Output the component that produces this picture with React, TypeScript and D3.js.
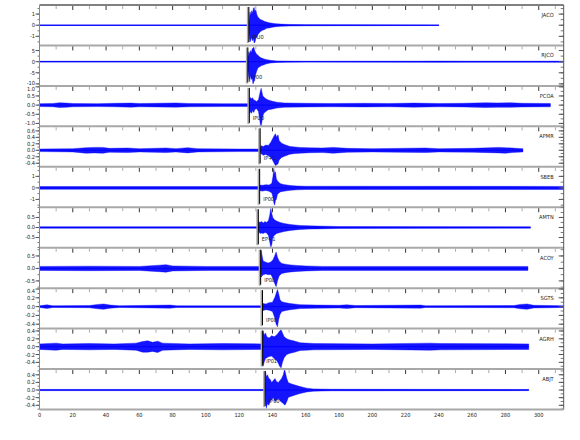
import React from "react";
import * as d3 from "d3";

type Env = [number, number, number][]; // [time, upper amplitude, lower amplitude]

const STATIONS = ["JACO", "RJCO", "PCOA", "APMR", "SBEB", "AMTN", "ACOY", "SGTS", "AGRH", "ABJT"];
const PICK_TIMES = [125.8, 125.2, 126.1, 132.6, 132.3, 131.5, 132.9, 134.0, 134.1, 135.6];
const PICK_LABELS = ["IPU0", "IP00", "IPU0", "IP+1", "IP00", "EP+1", "IP00", "IP00", "IP01", "IP00"];
const Y_MIN = [-1.82, -10.9, -1.16, -0.51, -1.68, -1.01, -0.79, -0.5, -0.57, -0.51];
const Y_MAX = [1.82, 7.3, 1.05, 0.74, 1.83, 1.01, 0.83, 0.42, 0.46, 0.55];
const Y_MAJOR_TICKS = [
  [1, 0, -1],
  [5, 0, -5, -10],
  [1, 0.5, 0, -0.5, -1],
  [0.6, 0.4, 0.2, 0, -0.2, -0.4],
  [1, 0, -1],
  [0.5, 0, -0.5],
  [0.5, 0, -0.5],
  [0.4, 0.2, 0, -0.2, -0.4],
  [0.4, 0.2, 0, -0.2, -0.4],
  [0.4, 0.2, 0, -0.2, -0.4],
];
const Y_MINOR_STEP = [0.5, 2.5, 0.25, 0.1, 0.5, 0.25, 0.25, 0.1, 0.1, 0.1];
const Y_FORMAT = ["d", "d", ".1f", ".1f", "d", ".1f", ".1f", ".1f", ".1f", ".1f"];
const X_TICK_LABELS = [0, 20, 40, 60, 80, 100, 120, 140, 160, 180, 200, 220, 240, 260, 280, 300];
const X_MINOR_TICKS = [0, 10, 20, 30, 40, 50, 60, 70, 80, 90, 100, 110, 120, 130, 140, 150, 160, 170, 180, 190, 200, 210, 220, 230, 240, 250, 260, 270, 280, 290, 300, 310];

const JACO_ENV: Env = [
  [0, .03, .03], [125.6, .03, .03], [126, .5, .9], [126.5, 1.2, 1.5], [127, .9, 1.3], [127.5, 1.3, 1.1],
  [128, 1.1, 1.4], [128.5, 1.5, 1.2], [129, 1.6, 1.6], [129.5, 1.2, 1.5], [130, 1.4, 1.2], [130.5, 1.0, 1.1],
  [131, .8, .9], [132, .6, .7], [133, .5, .55], [134, .45, .45], [135, .35, .4], [136.5, .28, .27],
  [138, .22, .24], [140, .18, .18], [142, .14, .13], [145, .1, .1], [150, .07, .07], [160, .05, .05],
  [180, .04, .04], [240, .03, .03],
];
const RJCO_ENV: Env = [
  [0, .2, .2], [125, .2, .2], [125.3, 2, 4], [125.8, 4.5, 7], [126.3, 3.5, 9], [126.8, 5, 6], [127.3, 4, 8],
  [127.8, 5.8, 7.5], [128.3, 6.2, 10], [128.8, 6.5, 9], [129.3, 5, 8.5], [129.8, 4.2, 6], [130.4, 3.5, 4.5],
  [131, 3, 3.2], [131.6, 2.7, 2.6], [132.5, 2, 2.2], [133.5, 1.6, 1.7], [134.6, 1.3, 1.5], [136, 1, 1.1],
  [138.6, .6, .6], [142.6, .35, .35], [148, .25, .25], [160, .2, .2], [228, .22, .22], [240, .28, .28],
  [255, .22, .22], [315, .22, .22],
];
const PCOA_ENV: Env = [
  [0, .08, .08], [8, .09, .09], [12, .13, .13], [16, .11, .12], [20, .09, .09], [35, .08, .08], [45, .1, .09],
  [55, .11, .11], [60, .09, .09], [70, .1, .1], [82, .12, .11], [90, .09, .09], [110, .08, .08], [126, .08, .08],
  [126.3, .3, .47], [126.8, .42, .35], [127.4, .35, .45], [128, .4, .3], [128.7, .3, .4], [129.5, .25, .22],
  [130.5, .2, .2], [131.6, .3, .35], [132.3, .6, .8], [132.8, .8, 1.1], [133.2, .92, 1.2], [133.7, .7, .9],
  [134.2, .5, .6], [134.8, .45, .45], [136, .35, .35], [137.5, .28, .25], [139.5, .22, .22], [142.5, .16, .16],
  [147, .12, .12], [160, .1, .1], [175, .09, .09], [195, .1, .1], [210, .09, .09], [225, .11, .11], [240, .09, .09],
  [255, .1, .1], [268, .13, .13], [275, .12, .12], [283, .13, .12], [290, .1, .1], [307, .09, .09],
];
const APMR_ENV: Env = [
  [0, .04, .04], [20, .05, .05], [28, .08, .09], [33, .09, .08], [38, .09, .09], [42, .06, .06], [53, .07, .07],
  [60, .05, .05], [76, .07, .07], [82, .05, .05], [89, .08, .08], [95, .05, .05], [120, .04, .04],
  [132.5, .04, .04], [133, .14, .1], [134.5, .12, .15], [136, .16, .13], [137.5, .15, .17], [139, .25, .22],
  [140, .35, .3], [141, .45, .4], [141.8, .51, .48], [142.5, .4, .45], [143.3, .48, .42], [144, .3, .3],
  [145.5, .22, .22], [147.5, .17, .18], [150.5, .12, .12], [153.5, .1, .1], [156.5, .09, .09],
  [162.5, .075, .075], [170, .07, .07], [176.5, .09, .09], [185, .06, .06], [200, .05, .05], [232, .07, .07],
  [240, .05, .05], [260, .06, .06], [276, .09, .08], [280, .08, .09], [284, .07, .07], [290.5, .05, .05],
];
const SBEB_ENV: Env = [
  [0, .12, .12], [132, .12, .12], [132.6, .25, .25], [134, .22, .28], [136, .28, .22], [138, .25, .3],
  [139.6, .4, .45], [140.3, 1.0, .8], [140.8, 1.7, 1.3], [141.3, 1.2, 1.5], [141.8, 1.4, 1.1], [142.3, .8, 1.0],
  [143, .6, .55], [144.6, .38, .35], [146.5, .3, .3], [148.6, .25, .25], [151, .2, .2], [154.6, .17, .17],
  [160, .14, .14], [315, .13, .13],
];
const AMTN_ENV: Env = [
  [0, .04, .04], [131.3, .04, .04], [131.7, .3, .2], [132.5, .25, .3], [133.5, .3, .28], [134.5, .22, .3],
  [135.5, .3, .25], [136.5, .25, .28], [137.6, .35, .4], [138.3, .6, .7], [139, .95, 1.0], [139.6, .7, .85],
  [140.2, .5, .5], [141, .4, .4], [142.5, .32, .3], [144.6, .25, .25], [147, .2, .2], [150.6, .15, .15],
  [153.6, .12, .12], [156.6, .1, .1], [162, .08, .08], [167, .07, .07], [180, .05, .05], [295, .04, .04],
];
const ACOY_ENV: Env = [
  [0, .08, .08], [30, .09, .09], [60, .08, .08], [72, .13, .13], [76, .15, .15], [80, .1, .1], [100, .08, .08],
  [133, .08, .08], [133.3, .73, .35], [133.8, .5, .3], [134.4, .3, .25], [136, .25, .22], [137.5, .22, .25],
  [139, .26, .24], [140.3, .35, .4], [141.3, .5, .6], [142.2, .66, .73], [143, .45, .5], [144, .3, .3],
  [145.6, .2, .2], [148.6, .16, .16], [151, .14, .14], [154.6, .12, .12], [160, .1, .1], [170, .08, .08],
  [293.5, .08, .08],
];
const SGTS_ENV: Env = [
  [0, .02, .02], [4.5, .04, .04], [8, .02, .02], [30, .025, .025], [35, .05, .05], [38.5, .06, .06],
  [42.5, .035, .035], [48, .02, .02], [78.5, .035, .035], [82.6, .02, .02], [134, .02, .02], [134.3, .07, .09],
  [136, .06, .07], [138, .09, .08], [140, .1, .11], [141.3, .2, .25], [142.2, .3, .4], [143, .39, .46],
  [143.7, .3, .3], [144.5, .16, .18], [145.6, .11, .11], [148, .09, .09], [150.6, .07, .07], [156.6, .045, .045],
  [166.7, .035, .035], [180, .03, .03], [184.7, .04, .04], [190, .025, .025], [229, .035, .035], [232, .02, .02],
  [285, .025, .025], [289, .05, .05], [293, .06, .06], [297, .03, .03], [315, .02, .02],
];
const AGRH_ENV: Env = [
  [0, .07, .07], [10, .09, .09], [14, .07, .07], [30, .08, .08], [45, .07, .07], [58, .09, .09], [62, .13, .14],
  [65, .15, .14], [68, .11, .12], [71, .14, .15], [74, .09, .09], [90, .07, .07], [110, .08, .08], [134, .07, .07],
  [134.3, .41, .5], [135, .3, .4], [135.8, .35, .3], [136.6, .25, .28], [138, .22, .25], [139.5, .28, .24],
  [141, .25, .3], [142.5, .3, .35], [143.5, .35, .42], [144.3, .4, .5], [145.2, .43, .54], [146, .35, .4],
  [147, .25, .28], [148.6, .2, .2], [150.5, .17, .17], [152.6, .15, .15], [156.6, .1, .1], [165, .08, .08],
  [200, .07, .07], [235, .09, .09], [241, .08, .08], [294, .07, .07],
];
const ABJT_ENV: Env = [
  [0, .015, .015], [135.5, .015, .015], [135.8, .5, .3], [136.3, .35, .48], [137, .4, .35], [137.8, .3, .4],
  [138.6, .28, .3], [139.5, .2, .25], [140.5, .25, .2], [141.5, .3, .3], [142.5, .22, .26], [143.5, .2, .22],
  [144.5, .25, .28], [145.5, .3, .32], [146.5, .4, .35], [147.2, .54, .39], [147.8, .45, .38], [148.6, .3, .3],
  [149.6, .19, .19], [151.5, .16, .16], [153.6, .13, .13], [156.6, .09, .09], [160.6, .05, .05],
  [164.6, .03, .03], [175, .02, .02], [294, .015, .015],
];
const ENVELOPES = [JACO_ENV, RJCO_ENV, PCOA_ENV, APMR_ENV, SBEB_ENV, AMTN_ENV, ACOY_ENV, SGTS_ENV, AGRH_ENV, ABJT_ENV];

const FONT = "'DejaVu Sans', sans-serif";
const FS = 5.6;

export default function App() {
  const W = 580;
  const H = 440;
  const top0 = 5;
  const ph = 40.45;
  const x = d3.scaleLinear().domain([0, 315]).range([39.5, 563.7]);
  const x0 = x(0);
  const x1 = x(315);
  const bottom = top0 + ph * STATIONS.length;
  const fmtFix = (f: string) => (v: number) => d3.format(f)(v).replace("\u2212", "-");

  return (
    <svg
      width={W}
      height={H}
      style={{ position: "absolute", left: 0, top: 0, background: "#fff", fontStretch: "condensed" }}
      fontFamily={FONT}
    >
      <rect x={0} y={0} width={W} height={H} fill="#fff" />
      <defs>
        {STATIONS.map((s, i) => (
          <clipPath id={`clip-${i}`} key={s}>
            <rect x={x0} y={top0 + i * ph} width={x1 - x0} height={ph} />
          </clipPath>
        ))}
      </defs>
      {STATIONS.map((s, i) => {
        const top = top0 + i * ph;
        const bot = top + ph;
        const y = d3.scaleLinear().domain([Y_MIN[i], Y_MAX[i]]).range([bot, top]);
        const env = ENVELOPES[i];
        const area = d3
          .area<[number, number, number]>()
          .x((d) => x(d[0]))
          .y0((d) => y(-d[2]))
          .y1((d) => y(d[1]));
        const line = d3
          .line<[number, number, number]>()
          .x((d) => x(d[0]))
          .y(() => y(0));
        const step = Y_MINOR_STEP[i];
        const minor = d3.range(Math.ceil(Y_MIN[i] / step) * step, Y_MAX[i] + 1e-9, step);
        const fmt = fmtFix(Y_FORMAT[i]);
        const pt = PICK_TIMES[i];
        return (
          <g key={s}>
            <g clipPath={`url(#clip-${i})`}>
              <path d={area(env) || ""} fill="#0000ff" fillOpacity={0.92} stroke="#0000ff" strokeWidth={0.4} />
              <path d={line([env[0], env[env.length - 1]]) || ""} stroke="#0000ff" strokeWidth={1} fill="none" />
            </g>
            <line x1={x(pt - 0.6)} x2={x(pt - 0.6)} y1={top + 2} y2={top + 38} stroke="#a8a8a8" strokeWidth={2} />
            <line x1={x(pt)} x2={x(pt)} y1={top + 2} y2={top + 37} stroke="#000" strokeWidth={1} />
            <text x={x(pt) + 3.5} y={top + 34} fontSize={FS} fill="#222">
              {PICK_LABELS[i]}
            </text>
            <line x1={x0} x2={x1} y1={top} y2={top} stroke={i === 0 ? "#808080" : "#a8a8a8"} strokeWidth={2} />
            {X_MINOR_TICKS.map((t) => (
              <line
                key={t}
                x1={x(t)}
                x2={x(t)}
                y1={top + 1}
                y2={top + (t % 20 === 0 ? 5 : 4)}
                stroke={t % 20 === 0 ? "#333" : "#aaa"}
                strokeWidth={1}
              />
            ))}
            {minor.map((v, k) => (
              <g key={k}>
                <line x1={x0 - 2} x2={x0} y1={y(v)} y2={y(v)} stroke="#777" strokeWidth={1} />
                <line x1={x1 - 3} x2={x1} y1={y(v)} y2={y(v)} stroke="#777" strokeWidth={1} />
              </g>
            ))}
            {Y_MAJOR_TICKS[i].map((v) => (
              <g key={v}>
                <line x1={x0 - 4} x2={x0} y1={y(v)} y2={y(v)} stroke="#555" strokeWidth={1} />
                <line x1={x1 - 5} x2={x1} y1={y(v)} y2={y(v)} stroke="#555" strokeWidth={1} />
                <text
                  x={x0 - 4.5}
                  y={Math.min(Math.max(y(v) + 2, top + 4.8), bot - 0.8)}
                  fontSize={FS}
                  textAnchor="end"
                  fill="#222"
                >
                  {fmt(v)}
                </text>
              </g>
            ))}
            <text x={x1 - 10} y={top + 12} fontSize={FS} textAnchor="end" fill="#222">
              {s}
            </text>
          </g>
        );
      })}
      <line x1={x0} x2={x0} y1={top0} y2={bottom} stroke="#888" strokeWidth={1} />
      <line x1={x1} x2={x1} y1={top0} y2={bottom} stroke="#555" strokeWidth={1} />
      <line x1={x0} x2={x1} y1={bottom} y2={bottom} stroke="#a8a8a8" strokeWidth={2} />
      {X_TICK_LABELS.map((t) => (
        <text key={t} x={x(t)} y={bottom + 7} fontSize={FS} textAnchor="middle" fill="#222">
          {t}
        </text>
      ))}
    </svg>
  );
}
